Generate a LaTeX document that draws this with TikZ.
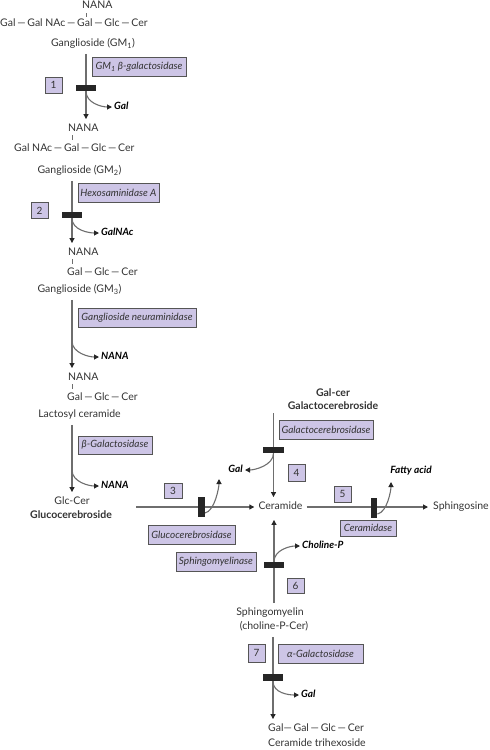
\documentclass[tikz,border=0pt]{standalone}
\usepackage{fontspec}
\setmainfont{Lato}
\usetikzlibrary{arrows.meta}
\definecolor{lav}{HTML}{CDC5E6}
\definecolor{boxc}{HTML}{555555}
\definecolor{linec}{HTML}{6E6E6E}
\definecolor{txtc}{HTML}{333333}
\newcommand{\bd}{\,—\,}
\tikzset{
  txt/.style={text=txtc,inner sep=0pt,text height=7.5pt,text depth=2pt,font=\fontsize{10.5}{12}\selectfont},
  btxt/.style={txt,font=\fontsize{10.5}{12}\selectfont\bfseries},
  prod/.style={txt,font=\fontsize{10}{12}\selectfont\bfseries\itshape,text=black},
  enz/.style={draw=boxc,fill=lav,line width=0.8pt,inner sep=0pt,text=txtc,font=\fontsize{10}{12}\selectfont\itshape,minimum height=19pt},
  num/.style={draw=boxc,fill=lav,line width=0.8pt,inner sep=0pt,text=txtc,font=\fontsize{10}{12}\selectfont,minimum width=17pt,minimum height=16pt},
  barh/.style={fill=black!85,inner sep=0pt,minimum width=20pt,minimum height=6pt},
  barv/.style={fill=black!85,inner sep=0pt,minimum width=6.5pt,minimum height=20pt},
  ln/.style={draw=linec,line width=1.1pt},
  arr/.style={ln,-{Triangle[length=5pt,width=5pt,color=black!85]}},
  tick/.style={draw=linec,line width=0.7pt},
}
\begin{document}
\begin{tikzpicture}[x=1pt,y=-1pt]
\useasboundingbox (0,0) rectangle (490,750);
% ---- GM1
\node[txt,anchor=west] (nana1) at (82,6) {NANA};
\node[txt,anchor=west] (chain1) at (0,24) {Gal\bd Gal NAc\bd Gal\bd Glc\bd Cer};
\node[txt] (gm1) at (93,44) {Ganglioside (GM\textsubscript{1})};
\node[barh] (bar1) at (86,88) {};
\node[enz,minimum width=94pt] (e1) at (139,67) {GM\textsubscript{1} β-galactosidase};
\node[num] (n1) at (53.5,85) {1};
\node[prod,anchor=west] (gal1) at (114,107) {Gal};
% ---- GM2
\node[txt,anchor=west] (nana2) at (68,129) {NANA};
\node[txt,anchor=west] (chain2) at (14,149) {Gal NAc\bd Gal\bd Glc\bd Cer};
\node[txt] (gm2) at (79.5,171) {Ganglioside (GM\textsubscript{2})};
\node[barh] (bar2) at (72,215) {};
\node[enz,minimum width=81pt] (e2) at (118.5,192.5) {Hexosaminidase A};
\node[num] (n2) at (39.5,210.5) {2};
\node[prod,anchor=west] (galnac) at (101,233) {GalNAc};
% ---- GM3
\node[txt,anchor=west] (nana3) at (68,253) {NANA};
\node[txt,anchor=west] (chain3) at (67,273) {Gal\bd Glc\bd Cer};
\node[txt] (gm3) at (79.5,290) {Ganglioside (GM\textsubscript{3})};
\node[enz,minimum width=118pt] (e3) at (137,317.5) {Ganglioside neuraminidase};
\coordinate (c3) at (72,341);
\node[prod,anchor=west] (nana3p) at (101,357) {NANA};
% ---- Lactosyl ceramide
\node[txt,anchor=west] (nana4) at (68,378) {NANA};
\node[txt,anchor=west] (chain4) at (67,398) {Gal\bd Glc\bd Cer};
\node[txt] (lacto) at (79.5,415) {Lactosyl ceramide};
\node[enz,minimum width=74pt,minimum height=18pt] (e4) at (115,445) {β-Galactosidase};
\coordinate (c4) at (72,470);
\node[prod,anchor=west] (nana4p) at (101,486) {NANA};
% ---- Glucocerebroside
\node[txt] (glccer) at (72,502) {Glc-Cer};
\node[btxt] (glucocer) at (71,516) {Glucocerebroside};
\node[txt] (ceramide) at (280.5,507) {Ceramide};
\coordinate (h3) at (136,507);
\node[barv] (bar3) at (201.5,507) {};
\node[num,minimum height=15pt,minimum width=18pt] (n3) at (173,491) {3};
\node[enz,minimum width=87pt] (e5) at (191.5,534.5) {Glucocerebrosidase};
\coordinate (g3tip) at (219,479);
% ---- Galactocerebroside
\node[btxt] (galcer) at (333,394) {Gal-cer};
\node[btxt] (galacto) at (333,407) {Galactocerebroside};
\coordinate (g4top) at (273.5,413);
\node[enz,minimum width=94pt] (e6) at (326,429.5) {Galactocerebrosidase};
\node[barh] (bar4) at (273.5,450) {};
\node[num,minimum height=17pt] (n4) at (296.5,472.5) {4};
\node[prod,anchor=east] (gal4) at (243,470) {Gal};
% ---- Ceramidase
\node[txt,anchor=west] (sphingosine) at (433,507) {Sphingosine};
\node[barv] (bar5) at (374,508) {};
\node[num] (n5) at (342.5,494) {5};
\node[enz,minimum width=56pt,minimum height=16pt] (e7) at (368,528) {Ceramidase};
\node[prod] (fatty) at (411,471) {Fatty acid};
\coordinate (g5tip) at (391,482);
% ---- Sphingomyelin
\node[txt] (sphingo) at (270,613) {Sphingomyelin};
\node[txt] (cpc) at (274,627) {(choline-P-Cer)};
\node[barh] (bar6) at (274,565) {};
\node[num,minimum height=15pt] (n6) at (295.5,585.5) {6};
\node[enz,minimum width=80pt] (e8) at (216,561.5) {Sphingomyelinase};
\node[prod,anchor=west] (choline) at (302,546) {Choline-P};
% ---- alpha-Galactosidase
\node[barh,minimum height=7pt] (bar7) at (273,677.5) {};
\node[num,minimum height=18pt] (n7) at (256.5,653) {7};
\node[enz,minimum width=85pt] (e9) at (320.5,653.5) {α-Galactosidase};
\node[prod,anchor=west] (gal7) at (301,695) {Gal};
\node[txt,anchor=west] (chain7) at (268,729) {Gal—\,Gal\bd Glc\bd Cer};
\node[txt,anchor=west] (trihex) at (268,744) {Ceramide trihexoside};
% ---- bond ticks
\draw[tick] (86,13) -- (86,17);
\draw[tick] (72,135) -- (72,140);
\draw[tick] (72,259) -- (72,264);
\draw[tick] (72,384) -- (72,389);
% ---- connectors
\draw[arr,shorten <=5pt,shorten >=5pt] (gm1.south -| bar1) -- (nana2.north -| bar1);
\draw[arr,shorten >=2pt] (bar1.south) .. controls +(0,12) and +(-12,0) .. (gal1.west);
\draw[arr,shorten <=5pt,shorten >=5pt] (gm2.south -| bar2) -- (nana3.north -| bar2);
\draw[arr,shorten >=2pt] (bar2.south) .. controls +(0,12) and +(-12,0) .. (galnac.west);
\draw[arr,shorten <=5pt,shorten >=5pt] (gm3.south -| c3) -- (nana4.north -| c3);
\draw[arr,shorten >=2pt] (c3) .. controls +(0,12) and +(-12,0) .. (nana3p.west);
\draw[arr,shorten <=5pt,shorten >=5pt] (lacto.south -| c4) -- (glccer.north -| c4);
\draw[arr,shorten >=2pt] (c4) .. controls +(0,12) and +(-12,0) .. (nana4p.west);
\draw[arr,shorten >=4pt] (h3) -- (ceramide.west);
\draw[arr] ([yshift=-6pt]bar3.east) .. controls +(10,-2) and +(0,8) .. (g3tip);
\draw[arr,shorten >=5pt] (g4top) -- (ceramide.north -| g4top);
\draw[arr,shorten >=2pt] (bar4.south) .. controls +(0,12) and +(12,0) .. (gal4.east);
\draw[arr,shorten <=4pt,shorten >=5pt] (ceramide.east) -- (sphingosine.west);
\draw[arr] ([yshift=-6pt]bar5.east) .. controls +(10,-2) and +(0,8) .. (g5tip);
\draw[arr,shorten <=5pt,shorten >=8pt] (sphingo.north -| bar6) -- (ceramide.south -| bar6);
\draw[arr,shorten >=2pt] (bar6.north) .. controls +(0,-12) and +(-12,0) .. (choline.west);
\draw[arr,shorten <=5pt,shorten >=5pt] (cpc.south -| bar7) -- (chain7.north -| bar7);
\draw[arr,shorten >=2pt] (bar7.south) .. controls +(0,12) and +(-12,0) .. (gal7.west);
% ---- redraw bars on top
\fill[black!85] (bar1.south west) rectangle (bar1.north east);
\fill[black!85] (bar2.south west) rectangle (bar2.north east);
\fill[black!85] (bar3.south west) rectangle (bar3.north east);
\fill[black!85] (bar4.south west) rectangle (bar4.north east);
\fill[black!85] (bar5.south west) rectangle (bar5.north east);
\fill[black!85] (bar6.south west) rectangle (bar6.north east);
\fill[black!85] (bar7.south west) rectangle (bar7.north east);
\end{tikzpicture}
\end{document}
